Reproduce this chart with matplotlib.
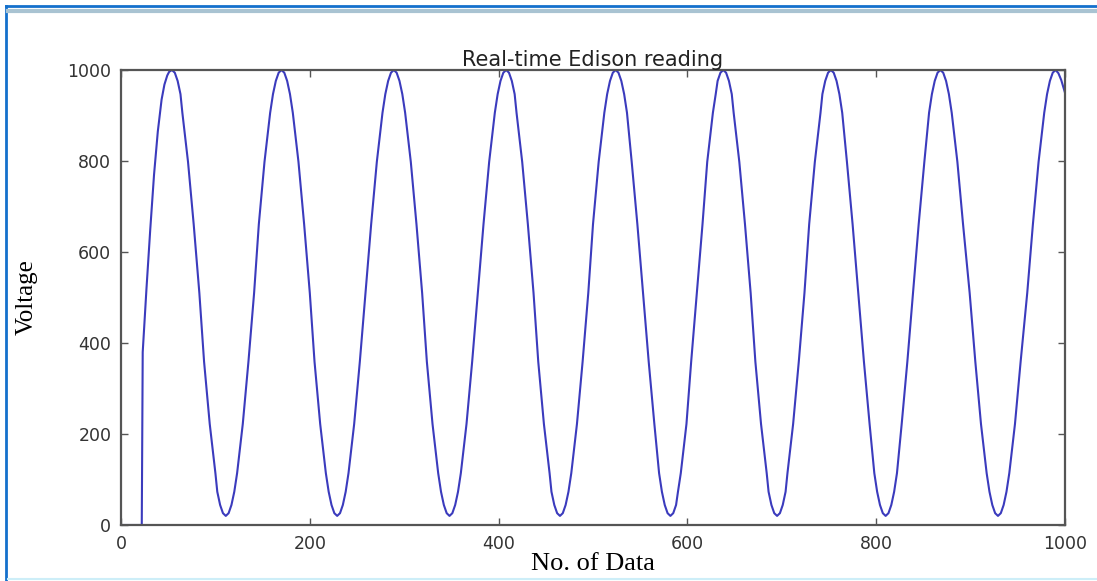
import matplotlib.pyplot as plt
from matplotlib.lines import Line2D


# readings: sample number -> voltage, one row per half cycle
sample_no = [0, 22, 23, 27, 31, 35, 39, 43, 46, 49, 51,
             54, 57, 60, 63, 65, 71, 77, 83, 88, 94, 100, 102, 105, 108,
             111, 114, 117, 120, 123, 129, 135, 141, 146, 152, 158, 161, 164, 167,
             170, 173, 176, 179, 182, 188, 194, 200, 205, 211, 217, 220, 223, 226,
             229, 232, 235, 238, 241, 247, 253, 259, 265, 271, 277, 280, 283, 286,
             289, 292, 295, 298, 301, 307, 313, 319, 324, 330, 336, 339, 342, 345,
             348, 351, 354, 357, 360, 366, 372, 378, 384, 390, 396, 399, 402, 405,
             408, 411, 414, 417, 419, 425, 431, 437, 442, 448, 454, 456, 459, 462,
             465, 468, 471, 474, 477, 483, 489, 495, 500, 506, 512, 515, 518, 521,
             524, 527, 530, 533, 536, 541, 547, 553, 559, 565, 570, 573, 576, 579,
             582, 585, 588, 590, 593, 599, 604, 610, 616, 621, 627, 630, 632, 635,
             638, 641, 644, 647, 649, 655, 661, 667, 672, 678, 684, 686, 689, 692,
             695, 698, 701, 704, 706, 712, 718, 724, 729, 735, 741, 743, 746, 749,
             752, 755, 758, 761, 764, 769, 775, 781, 787, 793, 798, 801, 804, 807,
             810, 813, 816, 819, 822, 827, 833, 839, 845, 851, 856, 859, 862, 865,
             868, 871, 874, 877, 880, 886, 892, 899, 905, 911, 917, 920, 923, 926,
             929, 932, 935, 938, 941, 947, 953, 960, 966, 972, 978, 981, 984, 987,
             990, 993, 996, 1000]

voltage = [0, 0, 380, 520, 650, 770, 865, 935, 968, 988, 996,
           1000, 994, 976, 947, 906, 798, 661, 510, 359, 222, 114, 73, 44, 26,
           20, 26, 44, 73, 114, 222, 359, 510, 661, 798, 906, 947, 976, 994,
           1000, 994, 976, 947, 906, 798, 661, 510, 359, 222, 114, 73, 44, 26,
           20, 26, 44, 73, 114, 222, 359, 510, 661, 798, 906, 947, 976, 994,
           1000, 994, 976, 947, 906, 798, 661, 510, 359, 222, 114, 73, 44, 26,
           20, 26, 44, 73, 114, 222, 359, 510, 661, 798, 906, 947, 976, 994,
           1000, 994, 976, 947, 906, 798, 661, 510, 359, 222, 114, 73, 44, 26,
           20, 26, 44, 73, 114, 222, 359, 510, 661, 798, 906, 947, 976, 994,
           1000, 994, 976, 947, 906, 798, 661, 510, 359, 222, 114, 73, 44, 26,
           20, 26, 44, 73, 114, 222, 359, 510, 661, 798, 906, 947, 976, 994,
           1000, 994, 976, 947, 906, 798, 661, 510, 359, 222, 114, 73, 44, 26,
           20, 26, 44, 73, 114, 222, 359, 510, 661, 798, 906, 947, 976, 994,
           1000, 994, 976, 947, 906, 798, 661, 510, 359, 222, 114, 73, 44, 26,
           20, 26, 44, 73, 114, 222, 359, 510, 661, 798, 906, 947, 976, 994,
           1000, 994, 976, 947, 906, 798, 661, 510, 359, 222, 114, 73, 44, 26,
           20, 26, 44, 73, 114, 222, 359, 510, 661, 798, 906, 947, 976, 994,
           1000, 993, 978, 950]

xticks = [0, 200, 400, 600, 800, 1000]
yticks = [0, 200, 400, 600, 800, 1000]

W, H = 1097, 581
fig = plt.figure(figsize=(W / 100, H / 100), dpi=100)
ax = fig.add_axes([121 / W, 1 - 525 / H, (1065 - 121) / W, (525 - 70) / H])

lineColor = '#3b3bbd'
ax.plot(sample_no, voltage, color=lineColor, linewidth=1.5)

ax.set_xlim(0, 1000)
ax.set_ylim(0, 1000)
ax.set_xticks(xticks)
ax.set_yticks(yticks)

ax.tick_params(direction='in', length=5, width=1, color='#555555',
               top=True, right=True, labelsize=12.5, labelcolor='#333333')
ax.tick_params(axis='x', pad=7)
ax.tick_params(axis='y', pad=7)
for sp in ax.spines.values():
    sp.set_color('#555555')
    sp.set_linewidth(1.6)

ax.set_title('Real-time Edison reading', fontsize=15, color='#222222', pad=3)
ax.set_xlabel('No. of Data', family='Liberation Serif', fontsize=19, labelpad=0)
ax.set_ylabel('Voltage', family='Liberation Serif', fontsize=18, labelpad=21)

# frame around the screenshot
fig.add_artist(Line2D([6 / W, 6 / W], [0, 1 - 6 / H], color='#1470cc', linewidth=2))
fig.add_artist(Line2D([6 / W, 1], [1 - 6 / H, 1 - 6 / H], color='#1470cc', linewidth=2))
fig.add_artist(Line2D([8 / W, 1], [1 - 11 / H, 1 - 11 / H], color='#a9c3d2', linewidth=3))
fig.add_artist(Line2D([8 / W, 1], [1 - 579 / H, 1 - 579 / H], color='#cdeef8', linewidth=1.5))

fig.savefig('out.png', dpi=100)
